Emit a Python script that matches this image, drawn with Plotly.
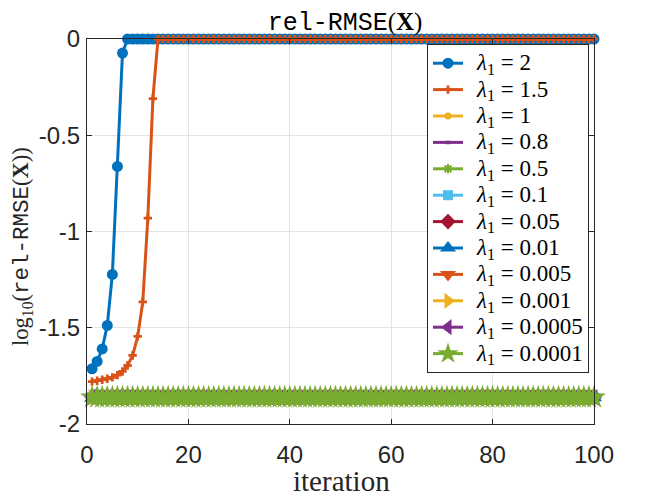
import plotly.graph_objects as go

# ---------------- data ----------------
iterations = list(range(1, 101))

lambda_labels = ["2", "1.5", "1", "0.8", "0.5", "0.1", "0.05",
                 "0.01", "0.005", "0.001", "0.0005", "0.0001"]

# log10(rel-RMSE) per iteration
s_2 = [-1.713, -1.675, -1.61, -1.488, -1.223, -0.662, -0.073] + [0.0] * 93
s_1_5 = [-1.780, -1.775, -1.770, -1.765, -1.758, -1.746, -1.727, -1.696,
         -1.644, -1.545, -1.366, -0.930, -0.310] + [0.0] * 87
s_1 = [-1.845, -1.858, -1.866, -1.871, -1.875, -1.877, -1.877, -1.876,
       -1.874, -1.871, -1.868, -1.866, -1.864, -1.863] + [-1.862] * 86
s_0_8 = [-1.855] + [-1.861] * 99
s_0_5 = [-1.858] + [-1.862] * 99
s_0_1 = [-1.860] + [-1.862] * 99
s_0_05 = [-1.860] + [-1.862] * 99
s_0_01 = [-1.866] + [-1.863] * 99
s_0_005 = [-1.862] + [-1.862] * 99
s_0_001 = [-1.860] + [-1.861] * 99
s_0_0005 = [-1.858] + [-1.861] * 99
s_0_0001 = [-1.862] + [-1.862] * 99

series = [s_2, s_1_5, s_1, s_0_8, s_0_5, s_0_1, s_0_05,
          s_0_01, s_0_005, s_0_001, s_0_0005, s_0_0001]

x_tick_vals = [0, 20, 40, 60, 80, 100]
x_tick_text = ["0", "20", "40", "60", "80", "100"]
y_tick_vals = [0, -0.5, -1, -1.5, -2]
y_tick_text = ["0", "-0.5", "-1", "-1.5", "-2"]

# ---------------- styles ----------------
colors = ["#0072BD", "#D95319", "#EDB120", "#7E2F8E", "#77AC30", "#4DBEEE",
          "#A2142F", "#0072BD", "#D95319", "#EDB120", "#7E2F8E", "#77AC30"]
symbols = ["circle", "cross", "circle", "x", "asterisk-open", "square",
           "diamond", "triangle-up", "triangle-down", "triangle-right",
           "triangle-left", "star"]
sizes = [11, 7, 7, 4, 8, 10, 12, 14, 14, 14, 14, 18]

SERIF = "Liberation Serif"
SANS = "Liberation Sans"
MONO = "Liberation Mono"

W, H = 658, 497
L, R, T, B = 87, 64, 39, 73
PW, PH = W - L - R, H - T - B


def px_x(p):
    return (p - L) / PW


def px_y(p):
    return (H - B - p) / PH


fig = go.Figure()
for lab, ys, c, sym, sz in zip(lambda_labels, series, colors, symbols, sizes):
    marker = dict(symbol=sym, size=sz, color=c)
    if sym.endswith("-open"):
        marker["line"] = dict(width=2, color=c)
    else:
        marker["line"] = dict(width=0)
    fig.add_trace(go.Scatter(
        x=iterations, y=ys, mode="lines+markers",
        name=f"&nbsp;&nbsp;<span style='font-size:23px'><i>λ</i><sub>1</sub> = {lab}</span>",
        line=dict(color=c, width=3),
        marker=marker,
        cliponaxis=False,
    ))

axis_common = dict(
    showline=True, linecolor="#262626", linewidth=1, mirror="ticks",
    ticks="inside", ticklen=5, tickcolor="#262626",
    showgrid=True, gridcolor="#e3e3e3", gridwidth=1,
    zeroline=False, automargin=False,
    tickfont=dict(family=SANS, size=24, color="#262626"),
)

fig.update_layout(
    width=W, height=H,
    margin=dict(l=L, r=R, t=T, b=B),
    paper_bgcolor="white", plot_bgcolor="white",
    showlegend=True,
    title=dict(
        text=f"<span style='font-family:{MONO}'>rel-RMSE</span>(<b>X</b>)",
        font=dict(family=SERIF, size=25, color="black"),
        x=345 / W, xref="container", xanchor="center",
        y=1 - 21 / H, yref="container", yanchor="middle",
    ),
    xaxis=dict(
        **axis_common, range=[0, 100],
        tickvals=x_tick_vals, ticktext=x_tick_text,
        ticklabelstandoff=9,
    ),
    yaxis=dict(
        **axis_common, range=[-2, 0],
        tickvals=y_tick_vals, ticktext=y_tick_text,
        ticklabelstandoff=1,
    ),
    annotations=[
        dict(
            text=f"log<sub>10</sub>(<span style='font-family:{MONO}'>rel-RMSE</span>(<b>X</b>))",
            font=dict(family=SERIF, size=22.5, color="#262626"),
            textangle=-90, showarrow=False,
            xref="paper", yref="paper",
            x=px_x(22), y=px_y(247),
            xanchor="center", yanchor="middle",
        ),
        dict(
            text="iteration",
            font=dict(family=SERIF, size=29, color="#262626"),
            showarrow=False,
            xref="paper", yref="paper",
            x=px_x(341), y=px_y(481),
            xanchor="center", yanchor="middle",
        ),
    ],
    legend=dict(
        x=px_x(427), y=px_y(44),
        xanchor="left", yanchor="top",
        xref="paper", yref="paper",
        bgcolor="white", bordercolor="#262626", borderwidth=1,
        font=dict(family=SERIF, size=18, color="black"),
        tracegroupgap=0, itemsizing="trace",
    ),
)

fig.write_html("out.html", config={"displayModeBar": False},
               post_script="document.body.style.margin='0';")
